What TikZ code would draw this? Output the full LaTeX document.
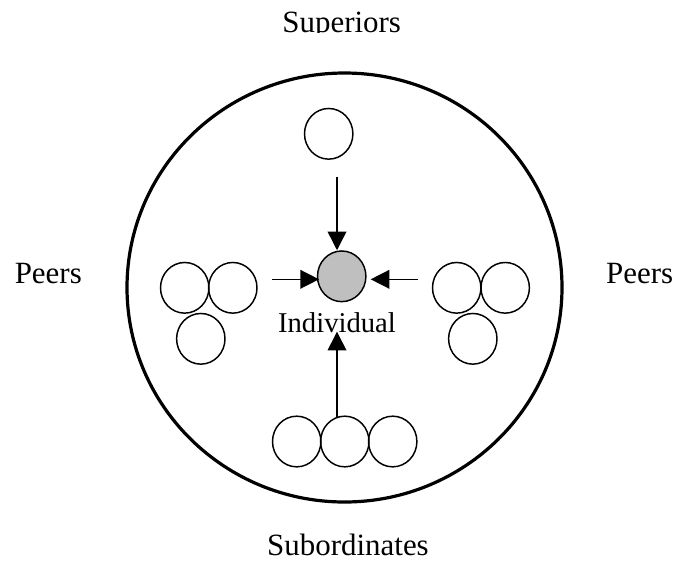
\documentclass[tikz,border=0pt]{standalone}
\usepackage{fontspec}
\setmainfont{Liberation Serif}
\usetikzlibrary{arrows.meta,shapes.geometric,positioning}
\tikzset{
  member/.style={draw, ellipse, line width=1.1pt, minimum width=36.3pt,
    minimum height=38pt, inner sep=0pt},
  self/.style={member, fill=black!25},
  pull/.style={line width=1.1pt, -{Triangle[length=14pt,width=14pt]}},
  label/.style={font=\fontsize{23.2}{26}\selectfont, anchor=base}
}
\begin{document}
\begin{tikzpicture}[x=0.75pt,y=-0.75pt]
  \useasboundingbox (0,0) rectangle (674,562);
  % group boundary
  \draw[line width=2.4pt] (344.5,287.5) ellipse [x radius=217.5, y radius=214.5];
  % the individual
  \node[self] (ind) at (341.7,276.3) {};
  \node[anchor=base, font=\fontsize{21.5}{24}\selectfont] (indtext) at (337,332) {Individual};
  % superior
  \node[member] (sup) at (328.7,133.8) {};
  % peers, left
  \node[member] (pla) at (184.7,287.8) {};
  \node[member] (plb) at (232.8,287.8) {};
  \node[member] (plc) at (200.8,338.8) {};
  % peers, right
  \node[member] (pra) at (456.7,287.8) {};
  \node[member] (prb) at (505.2,287.8) {};
  \node[member] (prc) at (472.8,338.8) {};
  % subordinates
  \node[member] (suba) at (296.7,441.5) {};
  \node[member] (subb) at (344.8,441.5) {};
  \node[member] (subc) at (392.7,441.5) {};
  % influences
  \coordinate (supfrom) at (337,176.7);
  \coordinate (plfrom) at (272.3,279.3);
  \coordinate (prfrom) at (417.7,279.3);
  \coordinate (prto) at (370.7,279.3);
  \coordinate (subfrom) at (337,416.7);
  \coordinate (subto) at (337,331.7);
  \draw[pull] (supfrom) -- (supfrom |- ind.north);
  \draw[pull] (plfrom) -- ([xshift=1.7pt]plfrom -| ind.west);
  \draw[pull] (prfrom) -- (prto);
  \draw[pull] (subfrom) -- (subto);
  % labels
  \begin{scope}
    \clip (0,0) rectangle (674,32.5);
    \node[label] (suplabel) at (341.7,32) {Superiors};
  \end{scope}
  \node[label] (pllabel) at (48.3,283.3) {Peers};
  \node[label] (prlabel) at (639.7,283.3) {Peers};
  \node[label] (sublabel) at (348,555) {Subordinates};
\end{tikzpicture}
\end{document}
